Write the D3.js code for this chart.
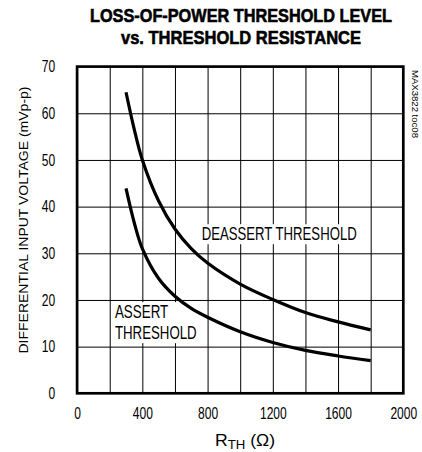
<!DOCTYPE html>
<html lang="en">

<head>
    <meta charset="UTF-8">
    <title>Loss-of-power threshold level vs. threshold resistance</title>
    <style>
        body { margin: 0; background: #fff; }
        svg { display: block; }
        .cond { font-family: "Liberation Sans", Arial, sans-serif; }
    </style>
</head>

<body>
    <div id="wrapper"></div>

    <script src="https://d3js.org/d3.v7.min.js"></script>
    <script>
        // data (R in ohms, voltage in mVp-p)
        const resistance = [300, 350, 400, 500, 600, 700, 800, 1000, 1200, 1400, 1600, 1800];
        const deassertLevel = [64.5, 56.6, 50, 41.2, 35.2, 31.0, 27.9, 23.4, 20.1, 17.3, 15.3, 13.6];
        const assertLevel = [43.9, 36.6, 31.0, 24.6, 20.8, 18.2, 16.3, 13.2, 10.9, 9.2, 8.0, 7.0];
        const xTicks = [0, 400, 800, 1200, 1600, 2000];
        const yTicks = [0, 10, 20, 30, 40, 50, 60, 70];

        // the original uses a condensed face: squeeze the text to the measured width
        const squeeze = (sel, w) => sel.attr("textLength", w).attr("lengthAdjust", "spacingAndGlyphs");

        function drawChart() {
            let dimensions = {
                width: 422,
                height: 452,
                margin: { top: 66.6, right: 18.7, bottom: 58.7, left: 77.1 },
            };
            dimensions.boundedWidth = dimensions.width - dimensions.margin.left - dimensions.margin.right;
            dimensions.boundedHeight = dimensions.height - dimensions.margin.top - dimensions.margin.bottom;

            const wrapper = d3.select("#wrapper")
                .append("svg")
                .attr("width", dimensions.width)
                .attr("height", dimensions.height);

            const bounds = wrapper.append("g")
                .attr("transform", `translate(${dimensions.margin.left},${dimensions.margin.top})`);

            const xScale = d3.scaleLinear().domain([0, 2000]).range([0, dimensions.boundedWidth]);
            const yScale = d3.scaleLinear().domain([0, 70]).range([dimensions.boundedHeight, 0]);

            // grid
            const xGrid = bounds.append("g")
                .attr("transform", `translate(0,${dimensions.boundedHeight})`)
                .call(d3.axisBottom(xScale).tickValues(d3.range(200, 2000, 200))
                    .tickSize(-dimensions.boundedHeight).tickFormat(""));
            const yGrid = bounds.append("g")
                .call(d3.axisLeft(yScale).tickValues(d3.range(10, 70, 10))
                    .tickSize(-dimensions.boundedWidth).tickFormat(""));
            [xGrid, yGrid].forEach(g => {
                g.select(".domain").remove();
                g.selectAll("line").attr("stroke", "#000").attr("stroke-width", 1);
            });

            // tick labels
            const xAxis = bounds.append("g")
                .attr("transform", `translate(0,${dimensions.boundedHeight})`)
                .call(d3.axisBottom(xScale).tickValues(xTicks).tickSize(0).tickPadding(14).tickFormat(d3.format("d")));
            const yAxis = bounds.append("g")
                .call(d3.axisLeft(yScale).tickValues(yTicks).tickSize(0).tickPadding(22).tickFormat(d3.format("d")));
            [xAxis, yAxis].forEach(g => {
                g.select(".domain").remove();
                g.selectAll("text")
                    .attr("class", "cond")
                    .attr("font-size", 16)
                    .attr("fill", "#000")
                    .each(function (d) {
                        squeeze(d3.select(this), String(d).length * 6.7);
                    });
            });
            xAxis.selectAll("text").attr("dy", "0.72em");

            // curve labels with white background
            const labels = [
                { lines: ["DEASSERT THRESHOLD"], widths: [155], r: 764, v: 32.8 },
                { lines: ["ASSERT", "THRESHOLD"], widths: [53.3, 81.7], r: 232, v: 16.1 },
            ];
            labels.forEach(l => {
                const g = bounds.append("g");
                const bg = g.append("rect").attr("fill", "#fff");
                l.lines.forEach((s, i) => {
                    g.append("text")
                        .attr("class", "cond")
                        .attr("font-size", 18)
                        .attr("x", xScale(l.r))
                        .attr("y", yScale(l.v) + i * 21)
                        .text(s)
                        .call(squeeze, l.widths[i]);
                });
                const bb = g.node().getBBox();
                bg.attr("x", bb.x - 2).attr("y", bb.y).attr("width", bb.width + 4).attr("height", bb.height);
            });

            // curves
            const lineGenerator = d3.line()
                .x(d => xScale(d[0]))
                .y(d => yScale(d[1]))
                .curve(d3.curveCatmullRom.alpha(0.5));
            [deassertLevel, assertLevel].forEach(series => {
                bounds.append("path")
                    .attr("d", lineGenerator(resistance.map((r, i) => [r, series[i]])))
                    .attr("fill", "none")
                    .attr("stroke", "#000")
                    .attr("stroke-width", 3.2);
            });

            // frame
            bounds.append("rect")
                .attr("width", dimensions.boundedWidth)
                .attr("height", dimensions.boundedHeight)
                .attr("fill", "none")
                .attr("stroke", "#000")
                .attr("stroke-width", 2.7);

            // title (heavy face: bold plus a thin outline)
            [["LOSS-OF-POWER THRESHOLD LEVEL", 21.7, 302], ["vs. THRESHOLD RESISTANCE", 43.5, 240]].forEach(([s, y, w]) => {
                wrapper.append("text")
                    .attr("class", "cond")
                    .attr("text-anchor", "middle")
                    .attr("font-size", 18.5)
                    .attr("font-weight", "bold")
                    .attr("stroke", "#000")
                    .attr("stroke-width", 0.6)
                    .attr("x", 241)
                    .attr("y", y)
                    .text(s)
                    .call(squeeze, w);
            });

            // axis titles
            const xLabel = wrapper.append("text")
                .attr("class", "cond")
                .attr("font-size", 16)
                .attr("x", 215)
                .attr("y", 446);
            xLabel.append("tspan").text("R");
            xLabel.append("tspan").attr("font-size", 12).attr("dy", 3).text("TH");
            xLabel.append("tspan").attr("dy", -3).text(" (Ω)");
            squeeze(xLabel, 60);

            wrapper.append("text")
                .attr("class", "cond")
                .attr("text-anchor", "middle")
                .attr("font-size", 13)
                .attr("transform", "translate(27.7,220) rotate(-90)")
                .text("DIFFERENTIAL INPUT VOLTAGE (mVp-p)")
                .call(squeeze, 267);

            wrapper.append("text")
                .attr("class", "cond")
                .attr("font-size", 9.5)
                .attr("transform", "translate(412,70) rotate(90)")
                .text("MAX3822 toc08")
                .call(squeeze, 68);
        }
        drawChart();
    </script>
</body>

</html>
